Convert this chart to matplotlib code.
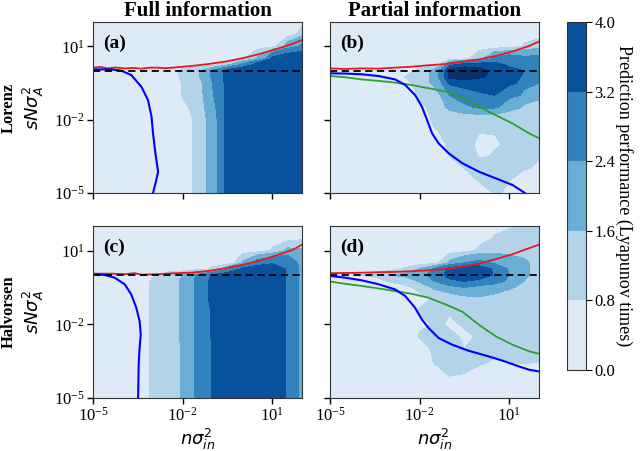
import numpy as np
import matplotlib
matplotlib.use("Agg")
import matplotlib.pyplot as plt
from matplotlib.colors import ListedColormap, BoundaryNorm
from matplotlib.cm import ScalarMappable
from matplotlib.ticker import NullLocator

plt.rcParams['font.family'] = ['Liberation Serif', 'DejaVu Serif']

# ---- grid (log10 exponents) ----
noise_exp = [-5, -4.5, -4, -3.5, -3, -2.5, -2, -1.5, -1, -0.5, 0, 0.5, 1, 1.5, 2]
scale_exp = [2, 1.5, 1, 0.5, 0.25, 0, -0.25, -0.5, -1, -1.5, -2, -2.5, -3, -3.5, -4, -4.5, -5]

levels = [0, 0.8, 1.6, 2.4, 3.2, 4.0, 4.8]
cbar_ticks = [0.0, 0.8, 1.6, 2.4, 3.2, 4.0]
band_colors = ['#deebf7', '#b3d3e9', '#6aaed6', '#3182bd', '#08519c', '#08306b']

# ---- prediction performance (Lyapunov times), rows top (1e2) -> bottom (1e-5) ----
perf_a = [
    [.3, .3, .3, .3, .3, .3, .3, .3, .3, .3, .3, .3, .3, .3, .3],
    [.3, .3, .3, .3, .3, .3, .3, .3, .3, .3, .3, .3, .3, .3, 1.3],
    [.3, .3, .3, .3, .3, .3, .3, .3, .3, .3, .3, .3, .6, 2.0, 2.6],
    [.3, .3, .3, .3, .3, .3, .3, .3, .3, .3, .7, 1.7, 3.4, 3.7, 3.7],
    [.3, .3, .3, .3, .3, .3, .3, .3, .5, 1.5, 2.7, 3.7, 3.7, 3.7, 3.7],
    [.3, .3, .3, .3, .3, .5, 1.0, 1.5, 2.6, 3.6, 3.7, 3.7, 3.7, 3.7, 3.7],
    [.3, .3, .3, .3, .3, .4, 1.0, 1.5, 2.6, 3.6, 3.7, 3.7, 3.7, 3.7, 3.7],
    [.3, .3, .3, .3, .3, .3, .9, 1.4, 2.4, 3.6, 3.7, 3.7, 3.7, 3.7, 3.7],
    [.3, .3, .3, .3, .3, .3, .9, 1.35, 2.35, 3.6, 3.7, 3.7, 3.7, 3.7, 3.7],
    [.3, .3, .3, .3, .3, .3, .6, 1.3, 2.2, 3.6, 3.7, 3.7, 3.7, 3.7, 3.7],
    [.3, .3, .3, .3, .3, .3, .3, 1.2, 2.1, 3.6, 3.7, 3.7, 3.7, 3.7, 3.7],
    [.3, .3, .3, .3, .3, .3, .3, 1.2, 2.1, 3.6, 3.7, 3.7, 3.7, 3.7, 3.7],
    [.3, .3, .3, .3, .3, .3, .3, 1.2, 2.1, 3.6, 3.7, 3.7, 3.7, 3.7, 3.7],
    [.3, .3, .3, .3, .3, .3, .3, 1.2, 2.1, 3.6, 3.7, 3.7, 3.7, 3.7, 3.7],
    [.3, .3, .3, .3, .3, .3, .3, 1.2, 2.1, 3.6, 3.7, 3.7, 3.7, 3.7, 3.7],
    [.3, .3, .3, .3, .3, .3, .3, 1.2, 2.1, 3.6, 3.7, 3.7, 3.7, 3.7, 3.7],
    [.3, .3, .3, .3, .3, .3, .3, 1.2, 2.1, 3.6, 3.7, 3.7, 3.7, 3.7, 3.7],
]

perf_b = [
    [.3, .3, .3, .3, .3, .3, .3, .3, .3, .3, .3, .3, .3, .3, .3],
    [.3, .3, .3, .3, .3, .3, .3, .3, .3, .3, .3, .3, .3, .3, .3],
    [.3, .3, .3, .3, .3, .3, .3, .3, .3, .3, .3, .3, .4, .9, 1.3],
    [.3, .3, .3, .3, .3, .3, .3, .3, .3, .6, 1.4, 2.6, 2.9, 2.6, 2.6],
    [.3, .3, .3, .3, .3, .3, .3, .5, 3.0, 3.7, 3.7, 3.5, 3.0, 2.8, 2.7],
    [.3, .3, .3, .3, .3, .5, 1.2, 2.0, 4.3, 4.4, 4.3, 3.7, 3.5, 3.2, 2.8],
    [.3, .3, .3, .3, .3, .8, 1.2, 2.0, 4.2, 4.4, 4.1, 3.7, 3.6, 3.0, 2.7],
    [.3, .3, .3, .3, .3, .6, 1.2, 1.9, 3.4, 3.7, 3.7, 3.6, 3.4, 2.8, 2.4],
    [.3, .3, .3, .3, .3, .3, 1.0, 1.3, 2.4, 2.8, 3.1, 3.2, 2.7, 2.2, 1.9],
    [.3, .3, .3, .3, .3, .3, .6, 1.2, 1.8, 2.3, 2.5, 2.5, 1.9, 1.5, 1.3],
    [.3, .3, .3, .3, .3, .3, .3, 1.1, 1.2, 1.2, 1.2, 1.2, 1.2, 1.2, 1.2],
    [.3, .3, .3, .3, .3, .3, .3, .7, 1.2, 1.2, .9, .9, 1.2, 1.0, 1.2],
    [.3, .3, .3, .3, .3, .3, .3, .3, 1.1, 1.2, .4, .6, 1.2, 1.2, 1.2],
    [.3, .3, .3, .3, .3, .3, .3, .3, .8, 1.2, .7, .9, 1.2, 1.2, 1.0],
    [.3, .3, .3, .3, .3, .3, .3, .3, .3, .8, 1.2, 1.2, 1.1, .9, .5],
    [.3, .3, .3, .3, .3, .3, .3, .3, .3, .3, .9, 1.1, .8, .4, .3],
    [.3, .3, .3, .3, .3, .3, .3, .3, .3, .3, .3, .9, .6, .3, .3],
]

perf_c = [
    [.3, .3, .3, .3, .3, .3, .3, .3, .3, .3, .3, .3, .3, .3, .3],
    [.3, .3, .3, .3, .3, .3, .3, .3, .3, .3, .3, .3, .3, .3, .6],
    [.3, .3, .3, .3, .3, .3, .3, .3, .3, .3, .3, .4, .9, 1.8, 1.7],
    [.3, .3, .3, .3, .3, .3, .3, .3, .3, .3, 1.7, 2.8, 3.1, 3.0, 2.0],
    [.3, .3, .3, .3, .3, .3, .3, .5, 1.0, 2.3, 3.4, 3.6, 3.7, 3.1, 2.0],
    [.3, .3, .3, .3, .6, 1.2, 1.6, 2.6, 3.3, 3.7, 3.7, 3.7, 3.7, 3.1, 2.0],
    [.3, .3, .3, .3, 1.0, 1.4, 1.7, 2.7, 3.5, 3.7, 3.7, 3.7, 3.7, 3.1, 2.0],
    [.3, .3, .3, .3, 1.0, 1.4, 1.7, 2.7, 3.5, 3.7, 3.7, 3.7, 3.7, 3.1, 2.0],
    [.3, .3, .3, .3, 1.0, 1.4, 1.7, 2.7, 3.5, 3.7, 3.7, 3.7, 3.7, 3.1, 2.0],
    [.3, .3, .3, .3, 1.0, 1.4, 1.7, 2.7, 3.3, 3.7, 3.7, 3.7, 3.7, 3.1, 2.0],
    [.3, .3, .3, .3, 1.0, 1.4, 1.7, 2.7, 3.3, 3.7, 3.7, 3.7, 3.7, 3.1, 2.0],
    [.3, .3, .3, .3, 1.0, 1.4, 1.7, 2.7, 3.3, 3.7, 3.7, 3.7, 3.7, 3.1, 2.0],
    [.3, .3, .3, .3, 1.0, 1.4, 1.65, 2.7, 3.25, 3.7, 3.7, 3.7, 3.7, 3.1, 2.0],
    [.3, .3, .3, .3, 1.0, 1.4, 1.65, 2.7, 3.25, 3.7, 3.7, 3.7, 3.7, 3.1, 2.0],
    [.3, .3, .3, .3, 1.0, 1.4, 1.65, 2.7, 3.25, 3.7, 3.7, 3.7, 3.7, 3.1, 2.0],
    [.3, .3, .3, .3, 1.0, 1.4, 1.65, 2.7, 3.25, 3.7, 3.7, 3.7, 3.7, 3.1, 2.0],
    [.3, .3, .3, .3, 1.0, 1.4, 1.65, 2.7, 3.25, 3.7, 3.7, 3.7, 3.7, 3.1, 2.0],
]

perf_d = [
    [.3, .3, .3, .3, .3, .3, .3, .3, .3, .3, .3, .3, .6, 1.0, 1.0],
    [.3, .3, .3, .3, .3, .3, .3, .3, .3, .3, .3, .9, 1.2, 1.2, 1.2],
    [.3, .3, .3, .3, .3, .3, .3, .3, .3, .5, 1.0, 1.3, 1.3, 1.3, 1.3],
    [.3, .3, .3, .3, .3, .3, .3, .6, 1.8, 2.4, 2.6, 2.3, 1.9, 1.7, 1.3],
    [.3, .3, .3, .3, .5, .9, 1.7, 2.6, 3.5, 3.9, 3.7, 3.0, 2.3, 1.7, 1.3],
    [.3, .6, .8, 1.0, 1.6, 1.8, 2.2, 2.8, 3.6, 3.95, 3.8, 3.1, 2.4, 1.7, 1.2],
    [.3, .3, .3, .5, .9, 1.2, 1.7, 2.4, 3.0, 3.2, 3.0, 2.8, 2.1, 1.6, 1.2],
    [.3, .3, .3, .3, .3, .6, 1.2, 1.8, 2.2, 2.4, 2.2, 2.0, 1.7, 1.3, 1.2],
    [.3, .3, .3, .3, .3, .3, .5, 1.0, 1.2, 1.4, 1.5, 1.4, 1.3, 1.2, 1.2],
    [.3, .3, .3, .3, .3, .3, .9, 1.0, .9, 1.1, 1.2, 1.2, 1.2, 1.2, 1.2],
    [.3, .3, .3, .3, .3, .3, .5, 1.0, .6, 1.0, 1.0, 1.2, 1.2, 1.2, 1.2],
    [.3, .3, .3, .3, .3, .3, .9, 1.1, 1.0, .6, 1.0, 1.1, 1.2, 1.2, 1.2],
    [.3, .3, .3, .3, .3, .3, .5, 1.0, 1.1, .8, 1.0, 1.1, 1.2, 1.1, 1.0],
    [.3, .3, .3, .3, .3, .3, .3, .9, 1.0, .9, 1.0, .7, .9, 1.0, .9],
    [.3, .3, .3, .3, .3, .3, .3, .6, .9, .8, .6, .4, .3, .3, .3],
    [.3, .3, .3, .3, .3, .3, .3, .3, .6, .7, .3, .3, .3, .3, .3],
    [.3, .3, .3, .3, .3, .3, .3, .3, .3, .3, .3, .3, .3, .3, .3],
]

# ---- curves (log10 exponents) ----
red_a_x = [-5, -4.75, -4.51, -4.25, -3.94, -3.65, -3.38, -3.1, -2.82, -2.55, -2.26, -1.70, -1.13, -0.57, -0.02, 0.55, 1.11, 1.67, 2.0]
red_a_y = [0.13, 0.16, 0.10, 0.14, 0.10, 0.12, 0.09, 0.13, 0.13, 0.11, 0.14, 0.20, 0.28, 0.38, 0.51, 0.68, 0.88, 1.10, 1.26]
blue_a_x = [-5, -4.39, -4.06, -3.72, -3.38, -3.16, -3.04, -2.99, -2.91, -2.82, -2.88, -2.99]
blue_a_y = [0.06, 0.06, 0.01, -0.17, -0.65, -1.19, -1.87, -2.56, -3.37, -4.13, -4.47, -5.0]

red_b_x = [-5, -4.51, -3.94, -3.38, -2.82, -2.26, -1.70, -1.13, -0.57, -0.01, 0.55, 1.11, 1.67, 2.0]
red_b_y = [0.10, 0.08, 0.10, 0.09, 0.13, 0.17, 0.23, 0.28, 0.38, 0.47, 0.61, 0.79, 1.02, 1.20]
green_b_x = [-5, -4.51, -3.94, -3.38, -2.82, -2.26, -1.70, -1.13, -0.57, -0.01, 0.55, 1.11, 1.67, 2.0]
green_b_y = [-0.21, -0.26, -0.35, -0.41, -0.48, -0.58, -0.71, -0.85, -1.08, -1.47, -1.81, -2.15, -2.56, -2.76]
blue_b_x = [-5, -4.51, -3.94, -3.38, -2.82, -2.48, -2.15, -1.92, -1.75, -1.58, -1.36, -1.02, -0.57, -0.01, 0.55, 1.11, 1.53]
blue_b_y = [-0.10, -0.11, -0.14, -0.21, -0.35, -0.58, -0.99, -1.47, -2.01, -2.56, -2.97, -3.38, -3.78, -4.13, -4.40, -4.67, -5.0]

red_c_x = [-5, -4.39, -3.94, -3.61, -3.38, -2.82, -2.26, -1.70, -1.13, -0.57, -0.01, 0.55, 1.11, 1.67, 2.0]
red_c_y = [0.06, 0.06, 0.04, 0.08, 0.02, 0.04, 0.08, 0.10, 0.17, 0.28, 0.42, 0.58, 0.79, 1.02, 1.24]
blue_c_x = [-5, -4.62, -4.28, -3.94, -3.72, -3.55, -3.44, -3.40, -3.44, -3.47, -3.49]
blue_c_y = [0.04, 0.01, -0.10, -0.37, -0.78, -1.33, -1.87, -2.42, -2.97, -3.65, -5.0]

red_d_x = [-5, -4.39, -3.94, -3.38, -2.82, -2.26, -1.70, -1.13, -0.57, -0.01, 0.55, 1.11, 1.67, 2.0]
red_d_y = [0.08, 0.09, 0.10, 0.12, 0.13, 0.16, 0.20, 0.25, 0.35, 0.47, 0.65, 0.85, 1.10, 1.24]
green_d_x = [-5, -4.51, -3.94, -3.38, -2.82, -2.26, -1.70, -1.13, -0.57, -0.01, 0.55, 1.11, 1.67, 2.0]
green_d_y = [-0.26, -0.35, -0.44, -0.54, -0.65, -0.76, -0.92, -1.19, -1.49, -2.02, -2.49, -2.83, -3.10, -3.20]
blue_d_x = [-5, -4.51, -3.94, -3.38, -2.82, -2.48, -2.15, -1.92, -1.70, -1.36, -0.91, -0.35, 0.21, 0.78, 1.34, 1.67, 2.0]
blue_d_y = [-0.03, -0.10, -0.21, -0.37, -0.58, -0.85, -1.33, -1.81, -2.15, -2.56, -2.83, -3.08, -3.27, -3.48, -3.72, -3.85, -3.92]

threshold = 1.0
row_names = ['Lorenz', 'Halvorsen']
col_titles = ['Full information', 'Partial information']
panel_tags = ['(a)', '(b)', '(c)', '(d)']

# ---- figure ----
W, H = 640, 451
fig = plt.figure(figsize=(W / 100, H / 100), dpi=100)

def px_axes(l, t, r, b):
    return fig.add_axes([l / W, 1 - b / H, (r - l) / W, (b - t) / H])

ax_a = px_axes(93, 22, 302, 193)
ax_b = px_axes(330, 22, 539, 193)
ax_c = px_axes(93, 226, 302, 398)
ax_d = px_axes(330, 226, 539, 398)
cax = px_axes(567, 22, 586, 370)

cmap = ListedColormap(band_colors)
norm = BoundaryNorm(levels, cmap.N)

X = 10.0 ** np.array(noise_exp)
Y = 10.0 ** np.array(scale_exp)[::-1]

spec = [
    (ax_a, perf_a, (red_a_x, red_a_y), (blue_a_x, blue_a_y), None),
    (ax_b, perf_b, (red_b_x, red_b_y), (blue_b_x, blue_b_y), (green_b_x, green_b_y)),
    (ax_c, perf_c, (red_c_x, red_c_y), (blue_c_x, blue_c_y), None),
    (ax_d, perf_d, (red_d_x, red_d_y), (blue_d_x, blue_d_y), (green_d_x, green_d_y)),
]

for i, (ax, Z, red, blue, green) in enumerate(spec):
    Zarr = np.array(Z)[::-1]
    ax.contourf(X, Y, Zarr, levels=levels, cmap=cmap, norm=norm)
    ax.set_xscale('log')
    ax.set_yscale('log')
    ax.set_xlim(1e-5, 1e2)
    ax.set_ylim(1e-5, 1e2)
    ax.plot(10.0 ** np.array(red[0]), 10.0 ** np.array(red[1]), color='#e41a1c', lw=1.3)
    if green is not None:
        ax.plot(10.0 ** np.array(green[0]), 10.0 ** np.array(green[1]), color='#2ca02c', lw=1.3)
    ax.plot(10.0 ** np.array(blue[0]), 10.0 ** np.array(blue[1]), color='#0000ff', lw=1.5)
    ax.axhline(threshold, color='black', lw=1.3, ls=(0, (4, 2.5)))
    ax.set_xticks([1e-5, 1e-2, 1e1])
    ax.set_yticks([1e-5, 1e-2, 1e1])
    ax.xaxis.set_minor_locator(NullLocator())
    ax.yaxis.set_minor_locator(NullLocator())
    ax.tick_params(labelsize=12, length=4, width=1, direction='out', pad=2)
    for s in ax.spines.values():
        s.set_color('#333333')
    if i in (0, 1):
        ax.tick_params(labelbottom=False)
    if i in (1, 3):
        ax.tick_params(labelleft=False)
    if i in (0, 2):
        ax.set_ylabel(r'$sN\sigma_A^2$', fontsize=13, math_fontfamily='dejavusans')
        ax.yaxis.set_label_coords(-0.225, 0.5)
    if i in (2, 3):
        ax.set_xlabel(r'$n\sigma_{in}^2$', fontsize=13, math_fontfamily='dejavusans')
        ax.xaxis.set_label_coords(0.5, -0.17)
    ax.text(0.05, 0.875, panel_tags[i], transform=ax.transAxes, fontsize=14,
            fontweight='bold', va='center', ha='left')

ax_a.set_title(col_titles[0], fontsize=15, fontweight='bold', pad=4)
ax_b.set_title(col_titles[1], fontsize=15, fontweight='bold', pad=4)

fig.text(9 / W, 1 - 107.5 / H, row_names[0], rotation=90, fontsize=12,
         fontweight='bold', ha='center', va='center')
fig.text(9 / W, 1 - 312 / H, row_names[1], rotation=90, fontsize=12,
         fontweight='bold', ha='center', va='center')

sm = ScalarMappable(cmap=ListedColormap(band_colors[:5]),
                    norm=BoundaryNorm(levels[:6], 5))
cb = fig.colorbar(sm, cax=cax, ticks=cbar_ticks)
cb.ax.set_yticklabels(['%.1f' % t for t in cbar_ticks])
cb.ax.tick_params(labelsize=12, length=4, pad=2)
cb.outline.set_edgecolor('#333333')
cb.set_label('Prediction performance (Lyapunov times)', rotation=270,
             fontsize=13, labelpad=13)

fig.savefig('out.png', dpi=100)
